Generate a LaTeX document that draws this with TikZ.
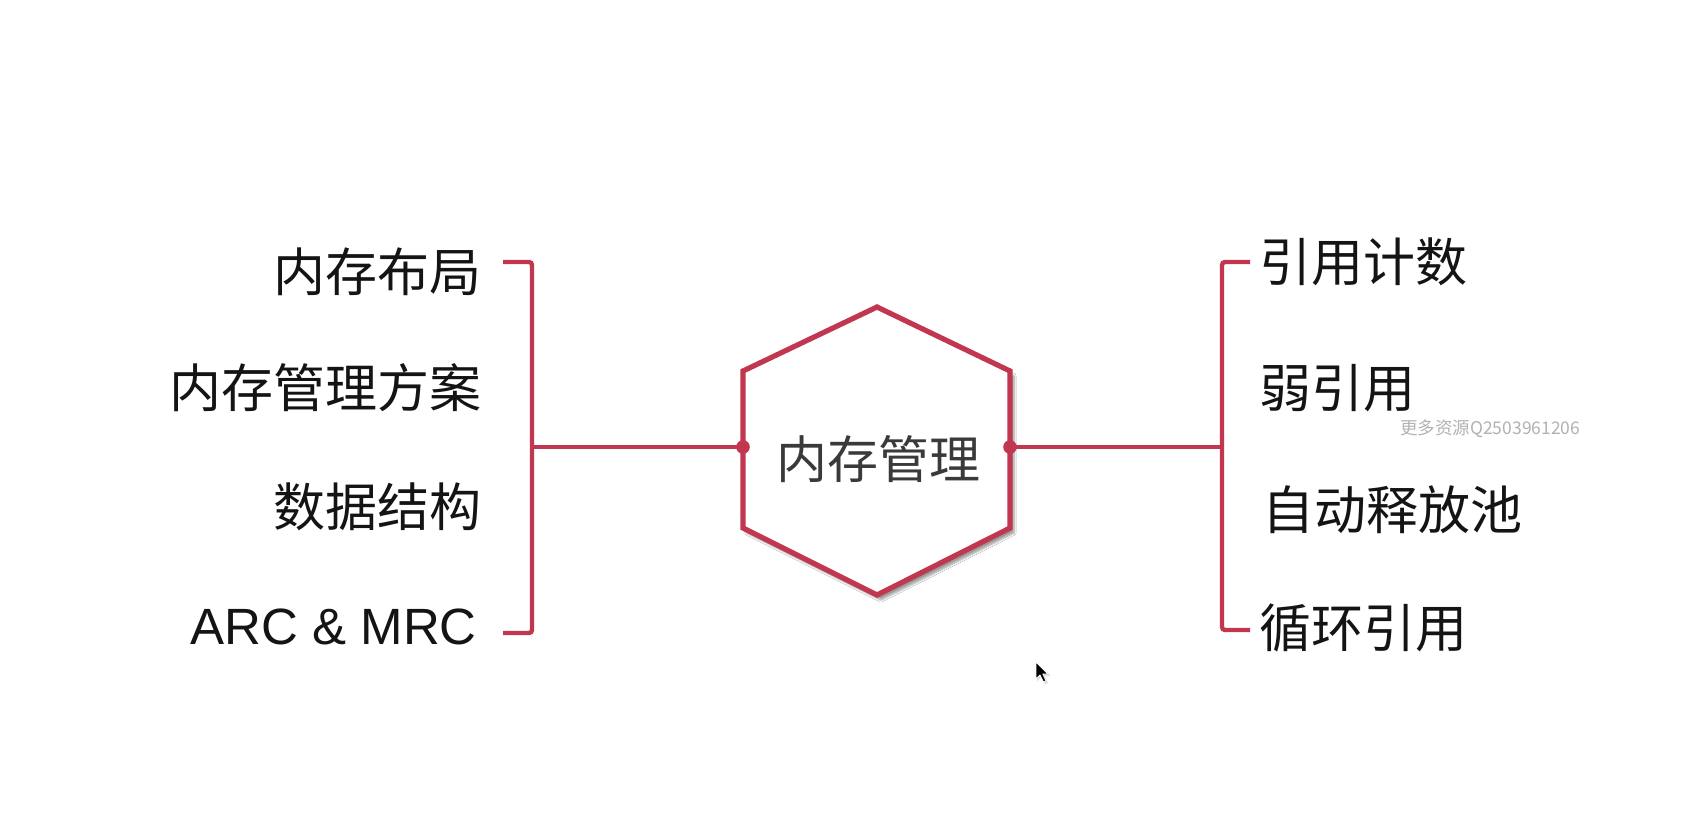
\documentclass[tikz,border=0pt]{standalone}
\usepackage{fontspec}
\setmainfont{Noto Sans CJK SC}
\newfontfamily\latinfont{Liberation Sans}
\usetikzlibrary{shadows.blur}
\definecolor{linkred}{RGB}{193,55,80}
\definecolor{hubtext}{RGB}{58,58,58}
\definecolor{markgray}{RGB}{178,178,178}
\tikzset{
  link/.style={draw=linkred, line width=4.4pt, rounded corners=3pt},
  hexframe/.style={draw=linkred, line width=5.2pt, fill=white, line join=miter,
    blur shadow={shadow xshift=4pt, shadow yshift=-5pt, shadow blur steps=8, shadow opacity=40}},
  joint/.style={fill=linkred},
  leftitem/.style={anchor=base east, inner sep=0pt, font=\fontsize{52}{60}\selectfont, text=black!92},
  rightitem/.style={anchor=base west, inner sep=0pt, font=\fontsize{52}{60}\selectfont, text=black!92},
  hubtitle/.style={inner sep=0pt, font=\fontsize{51}{60}\selectfont, text=hubtext},
  watermark/.style={anchor=base west, inner sep=0pt, font=\fontsize{17.5}{20}\selectfont, text=markgray}
}
\begin{document}
\begin{tikzpicture}[x=1pt, y=-1pt]
  \useasboundingbox[fill=white] (0,0) rectangle (1694,816);

  % central hexagon
  \coordinate (ht)  at (877,307);
  \coordinate (hul) at (743,371);
  \coordinate (hll) at (743,528);
  \coordinate (hb)  at (877,595);
  \coordinate (hlr) at (1010,528);
  \coordinate (hur) at (1010,371);
  \path[hexframe] (ht) -- (hul) -- (hll) -- (hb) -- (hlr) -- (hur) -- cycle;
  \node[hubtitle] (hub) at (878,459) {内存管理};

  % attachment points on the hexagon sides
  \coordinate (hl) at (743,447);
  \coordinate (hr) at (1010,447);

  % left bracket
  \coordinate (lt)  at (503,262);
  \coordinate (ltc) at (532,262);
  \coordinate (lm)  at (532,447);
  \coordinate (lbc) at (532,633);
  \coordinate (lb)  at (503,633);
  \draw[link] (lt) -- (ltc) -- (lbc) -- (lb);
  \draw[link] (lm) -- (hl);

  % right bracket
  \coordinate (rt)  at (1250,262);
  \coordinate (rtc) at (1222,262);
  \coordinate (rm)  at (1222,447);
  \coordinate (rbc) at (1222,630);
  \coordinate (rb)  at (1250,630);
  \draw[link] (rt) -- (rtc) -- (rbc) -- (rb);
  \draw[link] (hr) -- (rm);

  \fill[joint] (hl) circle (6.8pt);
  \fill[joint] (hr) circle (6.8pt);

  % left topics
  \node[leftitem] (l1) at (482,291) {内存布局};
  \node[leftitem] (l2) at (482,407) {内存管理方案};
  \node[leftitem] (l3) at (482,526) {数据结构};
  \node[leftitem, font=\latinfont\fontsize{51}{60}\selectfont] (l4) at (477,644) {ARC \& MRC};

  % right topics
  \node[rightitem] (r1) at (1259,281) {引用计数};
  \node[rightitem] (r2) at (1259,407) {弱引用};
  \node[rightitem] (r3) at (1262,529) {自动释放池};
  \node[rightitem] (r4) at (1259,647) {循环引用};

  \node[watermark] (wm) at (1400,434) {更多资源Q2503961206};

  % mouse pointer
  \begin{scope}[shift={(1036,662)}]
    \fill[black!15] (1,1) -- (1,19) -- (5.5,14.5) -- (9,22) -- (12,21) -- (8.5,13.5) -- (14.5,13.5) -- cycle;
    \filldraw[fill=black, draw=white, line width=0.8pt, line join=round]
      (0,0) -- (0,17) -- (4,13) -- (7.5,20) -- (10,19) -- (6.8,12) -- (12,12) -- cycle;
  \end{scope}
\end{tikzpicture}
\end{document}
